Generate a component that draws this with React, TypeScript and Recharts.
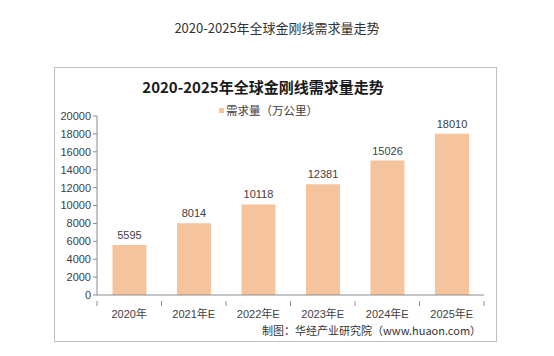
import React from 'react';
import { BarChart, Bar, XAxis, YAxis, LabelList } from 'recharts';

const categories = ['2020年', '2021年E', '2022年E', '2023年E', '2024年E', '2025年E'];
const demand = [5595, 8014, 10118, 12381, 15026, 18010];
const yTicks = [0, 2000, 4000, 6000, 8000, 10000, 12000, 14000, 16000, 18000, 20000];

const data = categories.map((name, i) => ({ name, demand: demand[i] }));

const BAR_COLOR = '#F5C49C';
const AXIS_COLOR = '#8c8c8c';
const TEXT_FONT = '"Liberation Sans", "Noto Sans CJK SC", sans-serif';

// category axis tick with marks on the band edges, like Excel does
const EdgeTick = (props: any) => {
  const { x, y, payload, index, visibleTicksCount } = props;
  const half = payload.offset || 32;
  return (
    <g>
      <line x1={x - half} y1={y - 2} x2={x - half} y2={y + 3} stroke={AXIS_COLOR} />
      {index === visibleTicksCount - 1 && (
        <line x1={x + half} y1={y - 2} x2={x + half} y2={y + 3} stroke={AXIS_COLOR} />
      )}
      <text x={x} y={y + 15} textAnchor="middle" fill="#404040" fontSize={11} fontFamily={TEXT_FONT}>
        {payload.value}
      </text>
    </g>
  );
};

export default function App() {
  return (
    <div style={{ position: 'absolute', left: 0, top: 0, width: 554, height: 356, background: '#fff', fontFamily: TEXT_FONT }}>
      <div style={{ position: 'absolute', top: 18, width: 554, textAlign: 'center', fontSize: 13, color: '#333', fontFamily: '"Noto Sans CJK SC", sans-serif' }}>
        2020-2025年全球金刚线需求量走势
      </div>
      <div style={{ position: 'absolute', left: 54, top: 67, width: 443, height: 275, border: '1px solid #bfbfbf', boxSizing: 'border-box' }} />
      <div style={{ position: 'absolute', left: 54, top: 76, width: 418, textAlign: 'center', fontSize: 15, fontWeight: 'bold', color: '#1a1a1a', fontFamily: '"Noto Sans CJK SC", serif' }}>
        2020-2025年全球金刚线需求量走势
      </div>
      <div style={{ position: 'absolute', left: 219, top: 102, fontSize: 11.5, color: '#404040', fontFamily: '"Noto Sans CJK SC", sans-serif', display: 'flex', alignItems: 'center' }}>
        <span style={{ display: 'inline-block', width: 5, height: 5, background: BAR_COLOR, marginRight: 2 }} />
        需求量（万公里）
      </div>
      <div style={{ position: 'absolute', left: 0, top: 0 }}>
        <BarChart width={554} height={356} data={data} margin={{ top: 116, right: 70, bottom: 31, left: 0 }} barCategoryGap="24%">
          <XAxis dataKey="name" stroke={AXIS_COLOR} tickLine={false} tick={<EdgeTick />} interval={0} height={30} />
          <YAxis
            width={97}
            domain={[0, 20000]}
            ticks={yTicks}
            interval={0}
            stroke={AXIS_COLOR}
            tickSize={4}
            tickMargin={2}
            tick={{ fill: '#404040', fontSize: 11, fontFamily: TEXT_FONT }}
          />
          <Bar dataKey="demand" fill={BAR_COLOR} isAnimationActive={false}>
            <LabelList dataKey="demand" position="top" offset={6} fill="#404040" fontSize={11} fontFamily={TEXT_FONT} />
          </Bar>
        </BarChart>
      </div>
      <div style={{ position: 'absolute', left: 262, top: 322, fontSize: 11, color: '#333', fontFamily: '"Noto Sans CJK SC", sans-serif' }}>
        制图：华经产业研究院（www.huaon.com）
      </div>
    </div>
  );
}
